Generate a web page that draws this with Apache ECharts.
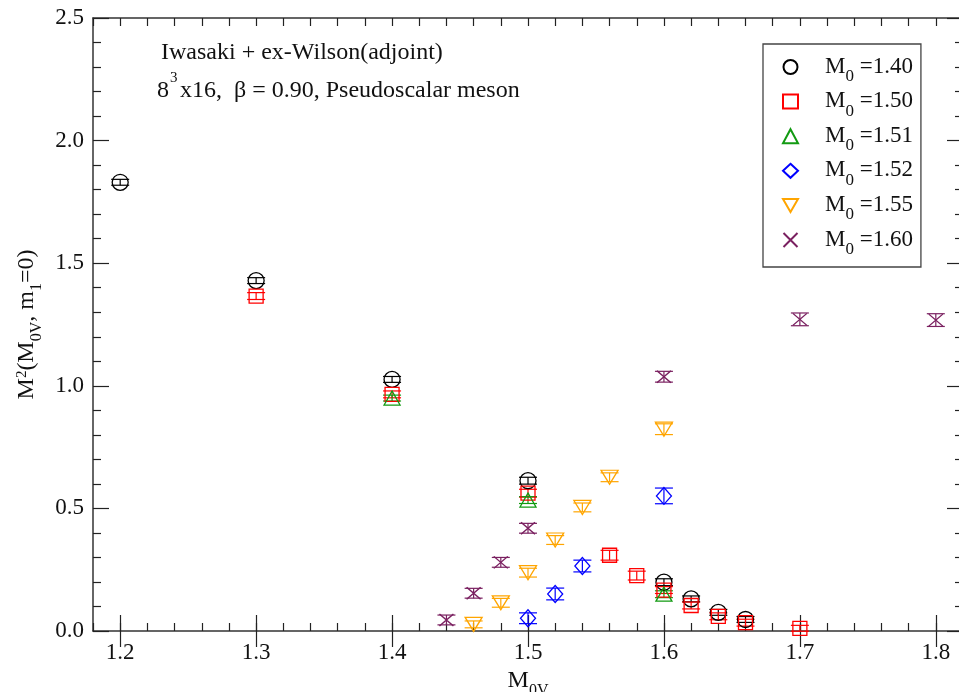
<!DOCTYPE html>
<html><head><meta charset="utf-8">
<script src="https://cdn.jsdelivr.net/npm/echarts@6/dist/echarts.min.js"></script>
<style>html,body{margin:0;padding:0;background:#fff}#c{width:959px;height:692px}</style>
</head><body><div id="c"></div>
<script>
// ---- data ----
const xTickLabels = [1.2, 1.3, 1.4, 1.5, 1.6, 1.7, 1.8];
const seriesNames = ['1.40', '1.50', '1.51', '1.52', '1.55', '1.60'];

const x140 = [1.2, 1.3, 1.4, 1.5, 1.6, 1.62, 1.64, 1.66];
const y140 = [1.830, 1.429, 1.026, 0.613, 0.199, 0.131, 0.076, 0.047];
const e140 = [0.012, 0.012, 0.012, 0.014, 0.014, 0.012, 0.012, 0.012];

const x150 = [1.3, 1.4, 1.5, 1.56, 1.58, 1.6, 1.62, 1.64, 1.66, 1.7];
const y150 = [1.366, 0.965, 0.562, 0.309, 0.226, 0.167, 0.104, 0.060, 0.034, 0.011];
const e150 = [0.014, 0.014, 0.016, 0.020, 0.018, 0.014, 0.014, 0.014, 0.014, 0.012];

const x151 = [1.4, 1.5, 1.6];
const y151 = [0.950, 0.534, 0.150];
const e151 = [0.012, 0.014, 0.014];

const x152 = [1.5, 1.52, 1.54, 1.6];
const y152 = [0.052, 0.151, 0.265, 0.551];
const e152 = [0.022, 0.024, 0.024, 0.032];

const x155 = [1.46, 1.48, 1.5, 1.52, 1.54, 1.56, 1.6];
const y155 = [0.027, 0.115, 0.238, 0.371, 0.504, 0.627, 0.823];
const e155 = [0.014, 0.018, 0.018, 0.018, 0.018, 0.018, 0.022];

const x160 = [1.44, 1.46, 1.48, 1.5, 1.6, 1.7, 1.8];
const y160 = [0.045, 0.154, 0.280, 0.419, 1.037, 1.271, 1.268];
const e160 = [0.020, 0.020, 0.020, 0.020, 0.022, 0.026, 0.026];

// ---- styling ----
const FONT = "'Liberation Serif', 'DejaVu Serif', serif";
const AX = '#222';
const colors = ['#000000', '#ff0000', '#129a12', '#0000ff', '#ffa500', '#7a2060'];
const symbols = ['circle', 'rect', 'triangle', 'diamond',
  'path://M0,0L10,0L5,8.66Z', 'path://M0,0L10,10M10,0L0,10'];
const sizes = [16, 14, [16, 14], [15, 17], [17, 14], [14, 12]];
const xs = [x140, x150, x151, x152, x155, x160];
const ys = [y140, y150, y151, y152, y155, y160];
const es = [e140, e150, e151, e152, e155, e160];

const chart = echarts.init(document.getElementById('c'), null, {renderer: 'canvas'});

function errRenderer(color) {
  return function (params, api) {
    const x = api.value(0), y = api.value(1), e = api.value(2);
    const t = api.coord([x, y + e]), b = api.coord([x, y - e]);
    const hw = 9;
    const st = {stroke: color, lineWidth: 1.2};
    return {type: 'group', children: [
      {type: 'line', shape: {x1: t[0], y1: t[1], x2: b[0], y2: b[1]}, style: st},
      {type: 'line', shape: {x1: t[0] - hw, y1: t[1], x2: t[0] + hw, y2: t[1]}, style: st},
      {type: 'line', shape: {x1: b[0] - hw, y1: b[1], x2: b[0] + hw, y2: b[1]}, style: st}
    ]};
  };
}

const series = [];
seriesNames.forEach((n, i) => {
  series.push({
    type: 'custom', name: 'err' + n, renderItem: errRenderer(colors[i]),
    data: xs[i].map((x, k) => [x, ys[i][k], es[i][k]]),
    encode: {x: 0, y: 1}, silent: true, z: 2
  });
});
seriesNames.forEach((n, i) => {
  series.push({
    type: 'scatter', name: n, symbol: symbols[i], symbolSize: sizes[i],
    data: xs[i].map((x, k) => [x, ys[i][k]]),
    itemStyle: {color: 'rgba(0,0,0,0)', borderColor: colors[i], borderWidth: 1.3, opacity: 1},
    emphasis: {disabled: true}, z: 3
  });
});

const tickLine = {color: AX, width: 1.2};
const axisLineStyle = {color: '#333', width: 1.5};
const richTxt = {
  m: {fontSize: 24, fontFamily: FONT, color: '#111', lineHeight: 26, verticalAlign: 'top'},
  sub: {fontSize: 16, fontFamily: FONT, color: '#111', lineHeight: 16, padding: [14, 0, 0, 0], verticalAlign: 'top'},
  sup: {fontSize: 15, fontFamily: FONT, color: '#111', lineHeight: 15, verticalAlign: 'top'}
};

function xAxisPair(pos) {
  return [
    {type: 'value', min: 1.18, max: 1.82, interval: 0.02, position: pos,
     axisLine: {show: true, onZero: false, lineStyle: axisLineStyle},
     axisTick: {show: true, inside: true, length: 8, lineStyle: tickLine},
     axisLabel: pos === 'bottom' ? {show: true, customValues: xTickLabels, formatter: v => v.toFixed(1),
        fontSize: 23, fontFamily: FONT, color: '#111', margin: 10} : {show: false},
     splitLine: {show: false},
     name: pos === 'bottom' ? '{m|M}{sub|0V}' : '',
     nameLocation: 'middle', nameGap: 38,
     nameTextStyle: {rich: richTxt}
    },
    {type: 'value', min: 1.18, max: 1.82, position: pos,
     axisLine: {show: false},
     axisTick: {show: true, inside: true, length: 16, customValues: xTickLabels, lineStyle: tickLine},
     axisLabel: {show: false}, splitLine: {show: false}}
  ];
}

function yAxisDef(pos) {
  return {type: 'value', min: 0, max: 2.5, interval: 0.5, position: pos,
    axisLine: {show: true, onZero: false, lineStyle: axisLineStyle},
    axisTick: {show: true, inside: true, length: 16, lineStyle: tickLine},
    minorTick: {show: true, splitNumber: 5, length: 8, lineStyle: tickLine},
    axisLabel: pos === 'left' ? {show: true, formatter: v => v.toFixed(1), fontSize: 23,
       fontFamily: FONT, color: '#111', margin: 9} : {show: false},
    splitLine: {show: false}, minorSplitLine: {show: false},
    name: pos === 'left' ? '{m|M}{sup|2}{m|(M}{sub|0V}{m|, m}{sub|1}{m|=0)}' : '',
    nameLocation: 'middle', nameRotate: 90, nameGap: 46,
    nameTextStyle: {rich: richTxt}
  };
}

const legendRich = {
  sp: {width: 22},
  m: {fontSize: 23, fontFamily: FONT, color: '#111', lineHeight: 24, verticalAlign: 'top'},
  s: {fontSize: 17, fontFamily: FONT, color: '#111', lineHeight: 17, padding: [13, 0, 4, 0], verticalAlign: 'top'}
};

chart.setOption({
  animation: false,
  backgroundColor: '#fff',
  grid: {left: 93, top: 18, width: 870, height: 613, containLabel: false, outerBoundsMode: 'none'},
  xAxis: [...xAxisPair('bottom'), ...xAxisPair('top')],
  yAxis: [yAxisDef('left'), yAxisDef('right')],
  legend: {
    data: seriesNames, orient: 'vertical', left: 763, top: 44,
    padding: [11, 8, 5, 19], itemGap: 0.6, itemWidth: 15, itemHeight: 14,
    borderColor: '#444', borderWidth: 1.3, backgroundColor: '#fff',
    selectedMode: false,
    formatter: n => '{sp| }{m|M}{s|0}{m| =' + n + '}',
    textStyle: {rich: legendRich}
  },
  graphic: [
    {type: 'text', left: 161, top: 41, style: {text: 'Iwasaki + ex-Wilson(adjoint)',
      font: '24px ' + FONT, fill: '#111'}},
    {type: 'text', left: 157, top: 79, style: {text: '8', font: '24px ' + FONT, fill: '#111'}},
    {type: 'text', left: 170, top: 71, style: {text: '3', font: '15px ' + FONT, fill: '#111'}},
    {type: 'text', left: 180, top: 79, style: {text: 'x16,  \u03b2 = 0.90, Pseudoscalar meson',
      font: '24px ' + FONT, fill: '#111'}}
  ],
  series: series
});
</script></body></html>
